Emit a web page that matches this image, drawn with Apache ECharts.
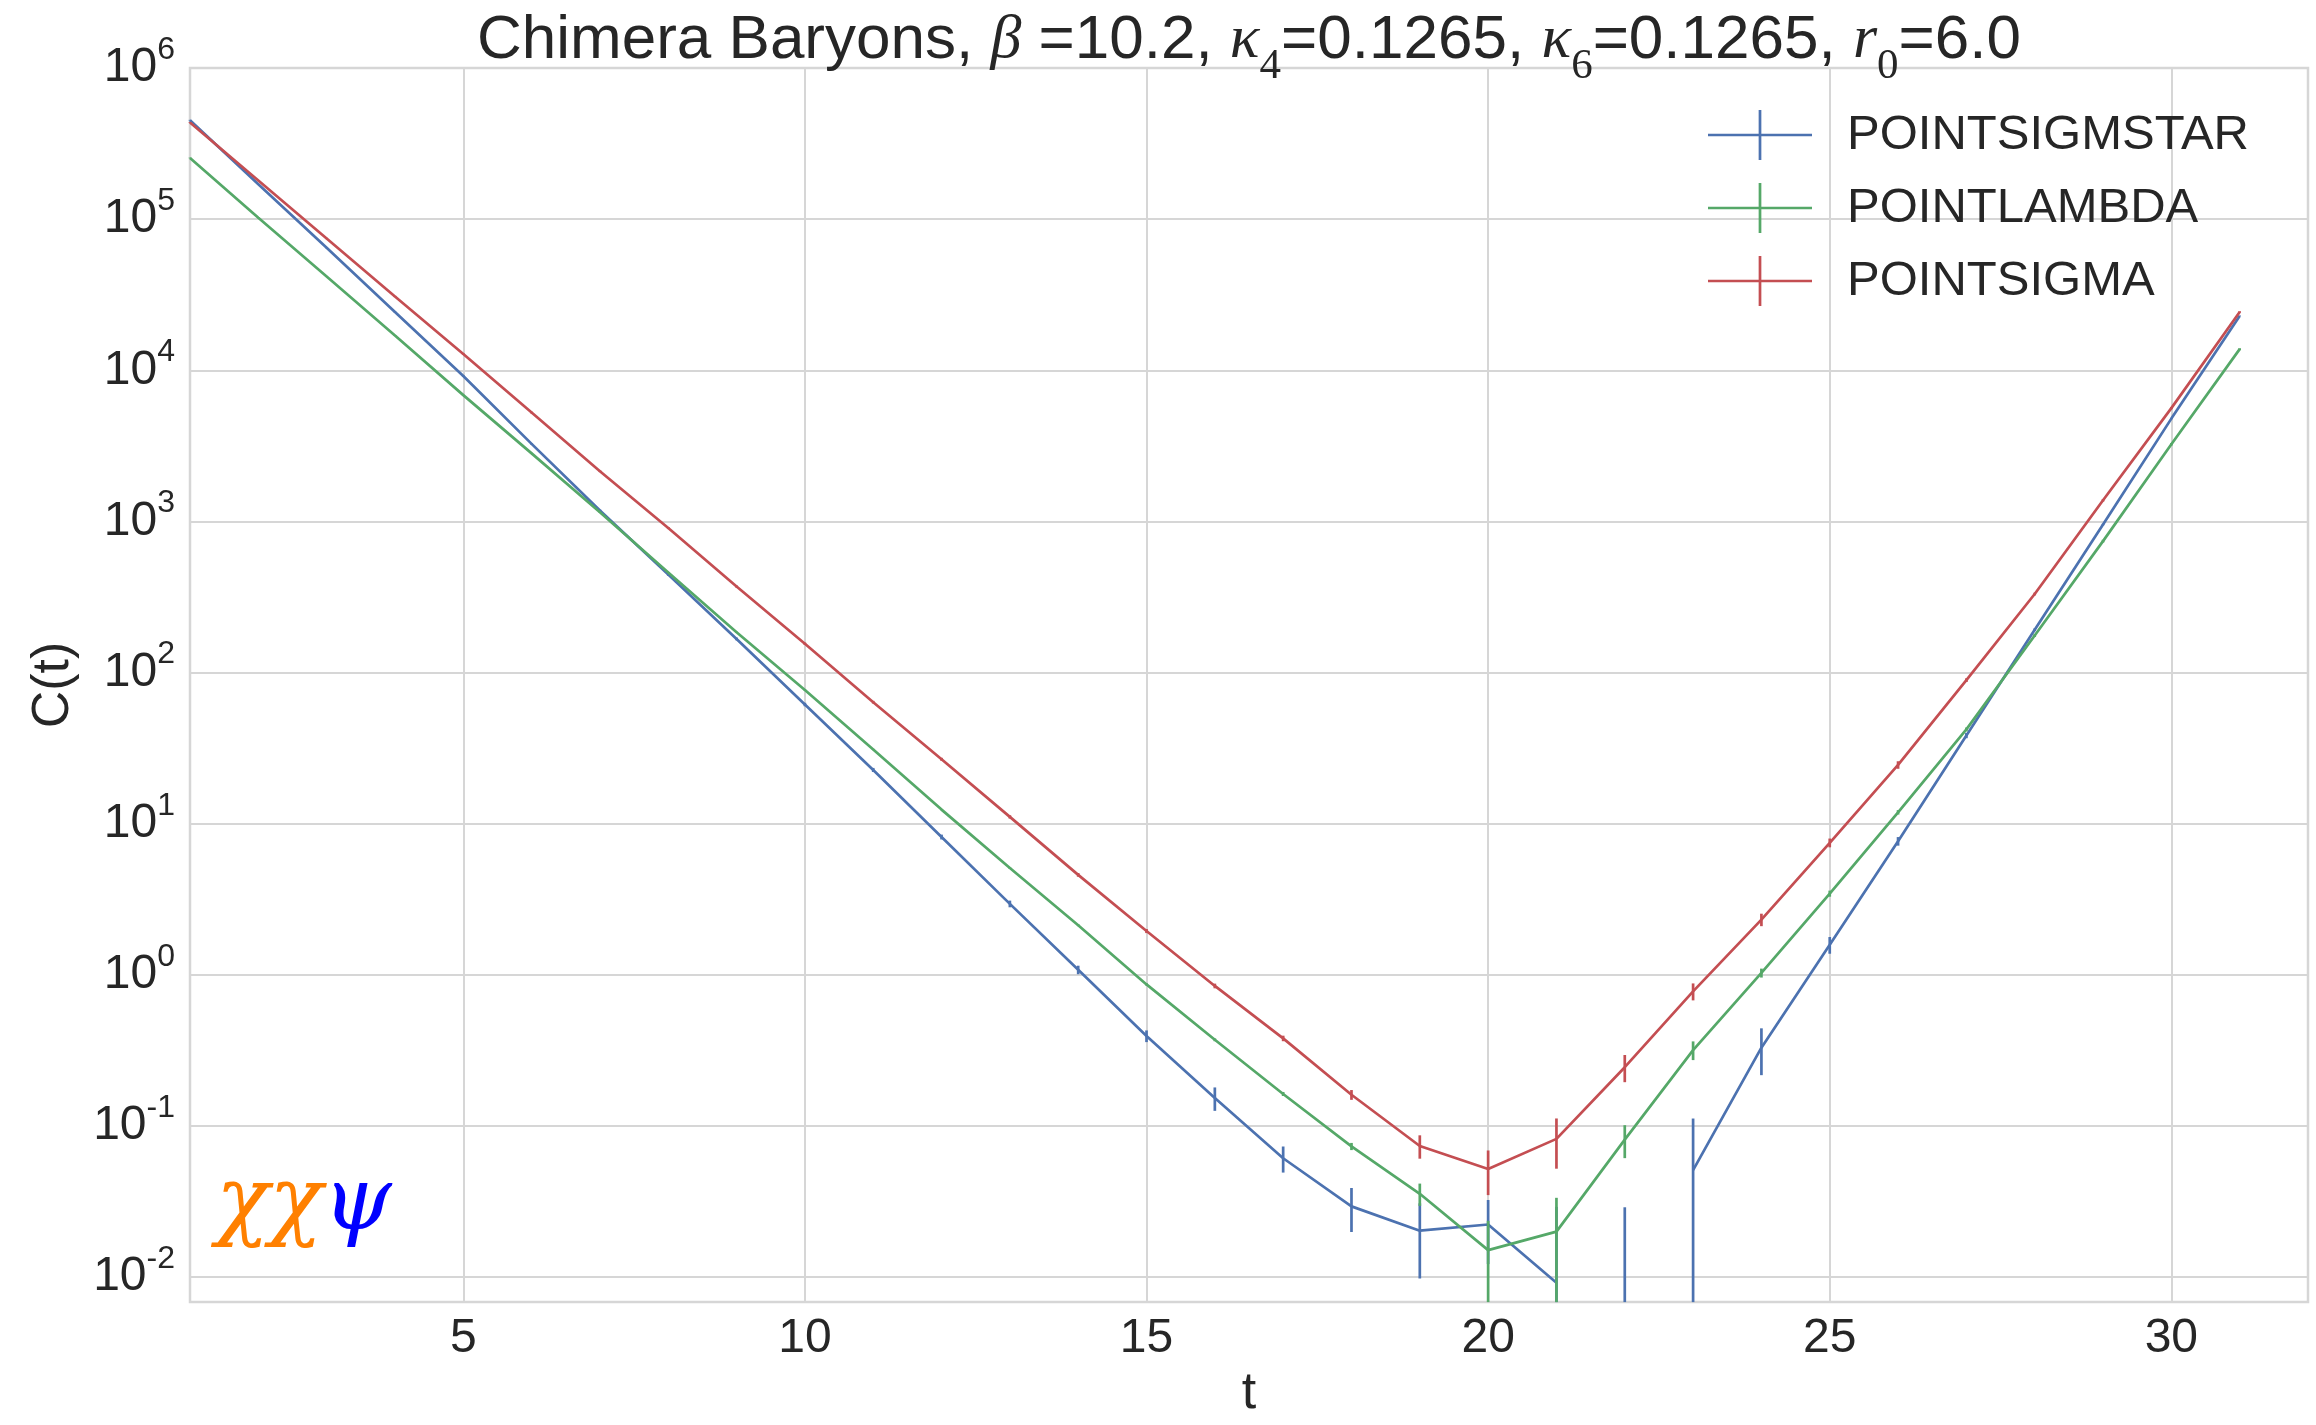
<!DOCTYPE html>
<html>
<head>
<meta charset="utf-8">
<title>Chimera Baryons</title>
<script src="https://cdn.jsdelivr.net/npm/echarts@6.0.0/dist/echarts.min.js"></script>
<style>
  html, body { margin: 0; padding: 0; background: #fff; }
  #chart { width: 2316px; height: 1425px; }
</style>
</head>
<body>
<div id="chart"></div>
<script>
// time slices
var ts = [1, 2, 3, 4, 5, 6, 7, 8, 9, 10, 11, 12, 13, 14, 15, 16, 17, 18, 19, 20,
  21, 22, 23, 24, 25, 26, 27, 28, 29, 30, 31]

// POINTSIGMSTAR (blue); t=22 mean is negative, so it has no point on the log axis
var sigmaStar = [4.51e5, 1.70e5, 6.46e4, 2.43e4, 9160, 3260, 1180, 445, 167, 61.5,
  22.7, 8.17, 2.95, 1.08, 0.394, 0.153, 0.0612, 0.0294, 0.0203, 0.0223,
  0.00918, -0.01, 0.0511, 0.330, 1.58, 7.66, 38.3, 192, 955, 4790, 2.29e4]
var sigmaStarErr = [3000, 1200, 500, 200, 90, 40, 18, 8, 3.5, 1.6,
  0.7, 0.3, 0.15, 0.07, 0.035, 0.027, 0.012, 0.0095, 0.0105, 0.0101,
  0.02, 0.039, 0.061, 0.113, 0.2, 0.5, 1.5, 4, 12, 40, 150]

// POINTLAMBDA (green)
var lambda = [2.54e5, 1.02e5, 4.17e4, 1.70e4, 6850, 2820, 1150, 460, 185, 76.7,
  31.0, 12.4, 5.09, 2.13, 0.865, 0.372, 0.163, 0.0733, 0.0356, 0.0151,
  0.0200, 0.0813, 0.318, 1.03, 3.45, 11.9, 42.1, 176, 741, 3240, 1.38e4]
var lambdaErr = [1500, 700, 300, 120, 50, 22, 9, 4, 1.7, 0.7,
  0.3, 0.13, 0.06, 0.03, 0.015, 0.008, 0.005, 0.004, 0.006, 0.0085,
  0.0135, 0.02, 0.045, 0.07, 0.16, 0.4, 1.2, 4, 15, 60, 200]

// POINTSIGMA (red)
var sigma = [4.36e5, 1.80e5, 7.45e4, 3.08e4, 1.28e4, 5250, 2150, 904, 371, 155,
  63.7, 26.7, 11.1, 4.59, 1.95, 0.845, 0.380, 0.161, 0.0738, 0.0519,
  0.0822, 0.245, 0.778, 2.32, 7.48, 24.5, 89.1, 331, 1380, 5620, 2.43e4]
var sigmaErr = [3000, 1500, 700, 300, 150, 70, 30, 14, 6, 2.8,
  1.3, 0.6, 0.28, 0.13, 0.06, 0.03, 0.016, 0.012, 0.013, 0.017,
  0.030, 0.05, 0.10, 0.22, 0.5, 1.4, 2.5, 7, 25, 90, 300]

var xTicks = [5, 10, 15, 20, 25, 30]
var names = ['POINTSIGMSTAR', 'POINTLAMBDA', 'POINTSIGMA']
var colors = ['#4C72B0', '#55A868', '#C44E52']

var yMin = 0.00684
var yMax = 1e6
var textColor = '#262626'
var gridColor = '#d6d6d6'
var plusIcon = 'path://M0,47.3L100,47.3L100,52.7L0,52.7Z M48.7,0L51.3,0L51.3,100L48.7,100Z'

function lineData (vals) {
  return vals.map(function (v, i) {
    return [ts[i], v > 0 ? v : '-']
  })
}

function errData (vals, errs) {
  return vals.map(function (v, i) {
    return [ts[i], Math.max(v - errs[i], yMin), v + errs[i]]
  })
}

function makeErrRender (color) {
  return function (params, api) {
    var t = api.value(0)
    var lo = api.value(1)
    var hi = api.value(2)
    var cs = params.coordSys
    var bottom = cs.y + cs.height
    var top = api.coord([t, hi])
    var low = api.coord([t, lo])
    var y1 = isFinite(top[1]) ? Math.min(top[1], bottom) : bottom
    var y2 = isFinite(low[1]) ? Math.min(low[1], bottom) : bottom
    return {
      type: 'line',
      shape: { x1: top[0], y1: y1, x2: top[0], y2: y2 },
      style: { stroke: color, lineWidth: 2.7 }
    }
  }
}

var dataSets = [[sigmaStar, sigmaStarErr], [lambda, lambdaErr], [sigma, sigmaErr]]
var series = []
dataSets.forEach(function (d, k) {
  series.push({
    name: names[k],
    type: 'line',
    data: lineData(d[0]),
    symbol: 'none',
    color: colors[k],
    lineStyle: { color: colors[k], width: 2.7 },
    connectNulls: false,
    z: 2 + k * 2,
    animation: false
  })
  series.push({
    name: names[k] + '-err',
    type: 'custom',
    data: errData(d[0], d[1]),
    encode: { x: 0, y: [1, 2] },
    renderItem: makeErrRender(colors[k]),
    z: 3 + k * 2,
    animation: false
  })
})

var option = {
  backgroundColor: '#ffffff',
  animation: false,
  grid: {
    left: 190,
    right: 8,
    top: 68,
    bottom: 118,
    show: true,
    borderColor: gridColor,
    borderWidth: 2.5,
    backgroundColor: '#ffffff'
  },
  legend: {
    orient: 'vertical',
    left: 1708,
    top: 110,
    padding: 0,
    itemWidth: 104,
    itemHeight: 50,
    itemGap: 23,
    symbolKeepAspect: false,
    formatter: function (name) {
      return '{sp|}{t|' + name + '}'
    },
    textStyle: {
      rich: {
        sp: { width: 30 },
        t: { fontFamily: 'Liberation Sans', fontSize: 49, color: textColor }
      }
    },
    data: names.map(function (n) { return { name: n, icon: plusIcon } })
  },
  xAxis: {
    type: 'value',
    min: 1,
    max: 32,
    name: 't',
    nameLocation: 'middle',
    nameGap: 65,
    nameTextStyle: { fontFamily: 'Liberation Sans', fontSize: 52, color: textColor },
    axisLine: { show: false },
    axisTick: { show: false },
    axisLabel: {
      customValues: xTicks,
      fontFamily: 'Liberation Sans',
      fontSize: 48,
      color: textColor,
      margin: 13
    },
    splitLine: { show: true, lineStyle: { color: gridColor, width: 2 } }
  },
  yAxis: {
    type: 'log',
    logBase: 10,
    min: yMin,
    max: yMax,
    name: 'C(t)',
    nameLocation: 'middle',
    nameRotate: 90,
    nameGap: 110,
    nameTextStyle: { fontFamily: 'Liberation Sans', fontSize: 52, color: textColor },
    axisLine: { show: false },
    axisTick: { show: false },
    axisLabel: {
      margin: 15,
      formatter: function (value) {
        var l = Math.log10(value)
        var e = Math.round(l)
        if (Math.abs(l - e) > 1e-6) return ''
        return '{b|10}{s|' + e + '}'
      },
      rich: {
        b: { fontFamily: 'Liberation Sans', fontSize: 48, lineHeight: 48, color: textColor, verticalAlign: 'bottom' },
        s: { fontFamily: 'Liberation Sans', fontSize: 32, lineHeight: 32, color: textColor, verticalAlign: 'bottom', padding: [0, 0, 26, 0] }
      }
    },
    splitLine: { show: true, lineStyle: { color: gridColor, width: 2 } }
  },
  graphic: [
    {
      type: 'text',
      x: 1249,
      y: 10,
      z: 100,
      style: {
        text: '{n|Chimera Baryons, }{m|β}{n| =10.2, }{m|κ}{s|4}{n|=0.1265, }{m|κ}{s|6}{n|=0.1265, }{m|r}{s|0}{n|=6.0}',
        align: 'center',
        verticalAlign: 'top',
        rich: {
          n: { fontFamily: 'Liberation Sans', fontSize: 62, lineHeight: 62, fill: textColor, verticalAlign: 'top' },
          m: { fontFamily: 'Liberation Serif', fontStyle: 'italic', fontSize: 62, lineHeight: 62, fill: textColor, verticalAlign: 'top' },
          s: { fontFamily: 'Liberation Serif', fontSize: 43, lineHeight: 43, fill: textColor, verticalAlign: 'top', padding: [35, 0, 0, 0] }
        }
      }
    },
    {
      type: 'text',
      x: 216,
      y: 1206,
      z: 100,
      style: {
        text: '{o|χχ}{b|ψ}',
        verticalAlign: 'middle',
        rich: {
          o: { fontFamily: 'DejaVu Serif', fontStyle: 'italic', fontSize: 88, fill: '#ff8000' },
          b: { fontFamily: 'DejaVu Serif', fontStyle: 'italic', fontSize: 88, fill: '#0000ff' }
        }
      }
    }
  ],
  series: series
}

var myChart = echarts.init(document.getElementById('chart'))
myChart.setOption(option)
</script>
</body>
</html>
